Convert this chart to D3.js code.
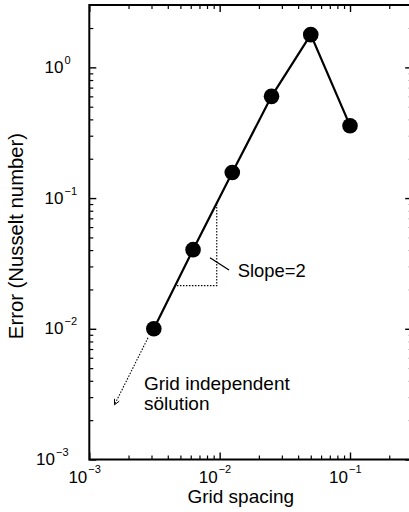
<!DOCTYPE html>
<html>
<head>
<meta charset="utf-8">
<script src="https://cdn.jsdelivr.net/npm/d3@7"></script>
<style>
  html, body { margin: 0; padding: 0; background: #fff; }
  svg { display: block; font-family: "Liberation Sans", Arial, Helvetica, sans-serif; }
</style>
</head>
<body>
<svg id="chart" width="409" height="512"></svg>
<script>
// ---- data ----
const gridSpacing = [0.003125, 0.00625, 0.0125, 0.025, 0.05, 0.1];
const errorNu     = [0.0100, 0.0403, 0.157, 0.60, 1.78, 0.358];
const xMajorTicks = [1e-3, 1e-2, 1e-1];
const yMajorTicks = [1e-3, 1e-2, 1e-1, 1e0];
const xTickExp = ["\u22123", "\u22122", "\u22121"];
const yTickExp = ["\u22123", "\u22122", "\u22121", "0"];
// slope triangle corners (data coords)
const triX = [0.0047, 0.0095];
const triY = [0.0214, 0.089];
// extrapolation arrow (data coords): start, end
const arrowX = [0.00282, 0.00156];
const arrowY = [0.00853, 0.00262];
const xTitle = "Grid spacing";
const yTitle = "Error (Nusselt number)";
const slopeLabel = "Slope=2";
const gridLabel = ["Grid independent", "s\u00f6lution"];

// ---- scales ----
const L = 89.3, R = 412.2, T = 5, B = 459.5;
const x = d3.scaleLog().domain([1e-3, 0.3]).range([L, R]);
const y = d3.scaleLog().domain([1e-3, 3]).range([B, T]);

const svg = d3.select("#chart");

function minorTicks(dom) {
  const out = [];
  const lo = Math.floor(Math.log10(dom[0])), hi = Math.ceil(Math.log10(dom[1]));
  for (let e = lo; e <= hi; e++) {
    for (let m = 2; m <= 9; m++) {
      const v = m * Math.pow(10, e);
      if (v > dom[0] && v < dom[1]) out.push(v);
    }
  }
  return out;
}
const xMinor = minorTicks(x.domain());
const yMinor = minorTicks(y.domain());

function styleAxis(g, w) {
  g.select(".domain").remove();
  g.selectAll(".tick line").attr("stroke", "#000").attr("stroke-width", w);
  g.selectAll(".tick text").remove();
}

// bottom
svg.append("g").attr("transform", `translate(0,${B})`)
  .call(d3.axisBottom(x).tickValues(xMinor).tickSize(-4).tickFormat(""))
  .call(g => styleAxis(g, 1.2));
svg.append("g").attr("transform", `translate(0,${B})`)
  .call(d3.axisBottom(x).tickValues(xMajorTicks).tickSize(-7).tickFormat(""))
  .call(g => styleAxis(g, 1.4));
// top
svg.append("g").attr("transform", `translate(0,${T})`)
  .call(d3.axisTop(x).tickValues(xMinor).tickSize(-4).tickFormat(""))
  .call(g => styleAxis(g, 1.2));
svg.append("g").attr("transform", `translate(0,${T})`)
  .call(d3.axisTop(x).tickValues(xMajorTicks).tickSize(-7).tickFormat(""))
  .call(g => styleAxis(g, 1.4));
// left
svg.append("g").attr("transform", `translate(${L},0)`)
  .call(d3.axisLeft(y).tickValues(yMinor).tickSize(-4).tickFormat(""))
  .call(g => styleAxis(g, 1.2));
svg.append("g").attr("transform", `translate(${L},0)`)
  .call(d3.axisLeft(y).tickValues(yMajorTicks).tickSize(-7).tickFormat(""))
  .call(g => styleAxis(g, 1.4));
// right
svg.append("g").attr("transform", `translate(${R},0)`)
  .call(d3.axisRight(y).tickValues(yMinor).tickSize(-4).tickFormat(""))
  .call(g => styleAxis(g, 1.0))
  .call(g => g.selectAll(".tick line").attr("stroke", "#bbb"));
svg.append("g").attr("transform", `translate(${R},0)`)
  .call(d3.axisRight(y).tickValues(yMajorTicks).tickSize(-7).tickFormat(""))
  .call(g => styleAxis(g, 1.4));

// frame
svg.append("rect").attr("x", L).attr("y", T).attr("width", R - L).attr("height", B - T)
  .attr("fill", "none").attr("stroke", "#000").attr("stroke-width", 2);

// x tick labels
xMajorTicks.forEach((v, i) => {
  const px = x(v);
  svg.append("text").attr("x", px - 2).attr("y", B + 23.5).attr("text-anchor", "end")
    .attr("font-size", 17).text("10");
  svg.append("text").attr("x", px - 1).attr("y", B + 13.5).attr("text-anchor", "start")
    .attr("font-size", 11).text(xTickExp[i]);
});
// y tick labels
yMajorTicks.forEach((v, i) => {
  const py = y(v);
  const low = (v === 1e-3);
  const ex = low ? 55 : 63.5;
  const by = low ? 465 : py + 5.5;
  svg.append("text").attr("x", ex).attr("y", by).attr("text-anchor", "end")
    .attr("font-size", 17).text("10");
  svg.append("text").attr("x", ex + 1).attr("y", by - 9).attr("text-anchor", "start")
    .attr("font-size", 11).text(yTickExp[i]);
});

// axis titles
svg.append("text").attr("x", (L + 412.2) / 2 - 10).attr("y", 503.3).attr("text-anchor", "middle")
  .attr("font-size", 19).text(xTitle);
svg.append("text").attr("transform", "translate(23.3,236) rotate(-90)").attr("text-anchor", "middle")
  .attr("font-size", 20.3).text(yTitle);

// slope triangle (dotted)
svg.append("path")
  .attr("d", `M${x(triX[0])},${y(triY[0])}L${x(triX[1])},${y(triY[0])}L${x(triX[1])},${y(triY[1])}`)
  .attr("fill", "none").attr("stroke", "#000").attr("stroke-width", 1.1)
  .attr("stroke-dasharray", "1.5,1.5");

// extrapolation arrow (dotted)
const ax0 = x(arrowX[0]), ay0 = y(arrowY[0]), ax1 = x(arrowX[1]), ay1 = y(arrowY[1]);
svg.append("line").attr("x1", ax0).attr("y1", ay0).attr("x2", ax1).attr("y2", ay1)
  .attr("stroke", "#000").attr("stroke-width", 1.1).attr("stroke-dasharray", "1.5,1.5");
{
  const ang = Math.atan2(ay1 - ay0, ax1 - ax0);
  const hl = 6, spread = 0.45;
  const p1 = [ax1 - hl * Math.cos(ang - spread), ay1 - hl * Math.sin(ang - spread)];
  const p2 = [ax1 - hl * Math.cos(ang + spread), ay1 - hl * Math.sin(ang + spread)];
  svg.append("path").attr("d", `M${p1}L${ax1},${ay1}L${p2}`)
    .attr("fill", "none").attr("stroke", "#000").attr("stroke-width", 1);
}

// data line and markers
const line = d3.line().x((d, i) => x(gridSpacing[i])).y(d => y(d));
svg.append("path").datum(errorNu).attr("d", line)
  .attr("fill", "none").attr("stroke", "#000").attr("stroke-width", 2.2);
svg.selectAll("circle.pt").data(errorNu).enter().append("circle")
  .attr("class", "pt")
  .attr("cx", (d, i) => x(gridSpacing[i])).attr("cy", d => y(d)).attr("r", 7.8)
  .attr("fill", "#000");

// annotations
svg.append("line").attr("x1", 210).attr("y1", 257.7).attr("x2", 229).attr("y2", 270)
  .attr("stroke", "#000").attr("stroke-width", 1.3);
svg.append("text").attr("x", 237.7).attr("y", 277).attr("font-size", 18.4).text(slopeLabel);
svg.append("text").attr("x", 144).attr("y", 389.5).attr("font-size", 19).text(gridLabel[0]);
svg.append("text").attr("x", 144).attr("y", 410).attr("font-size", 19).text(gridLabel[1]);
</script>
</body>
</html>
